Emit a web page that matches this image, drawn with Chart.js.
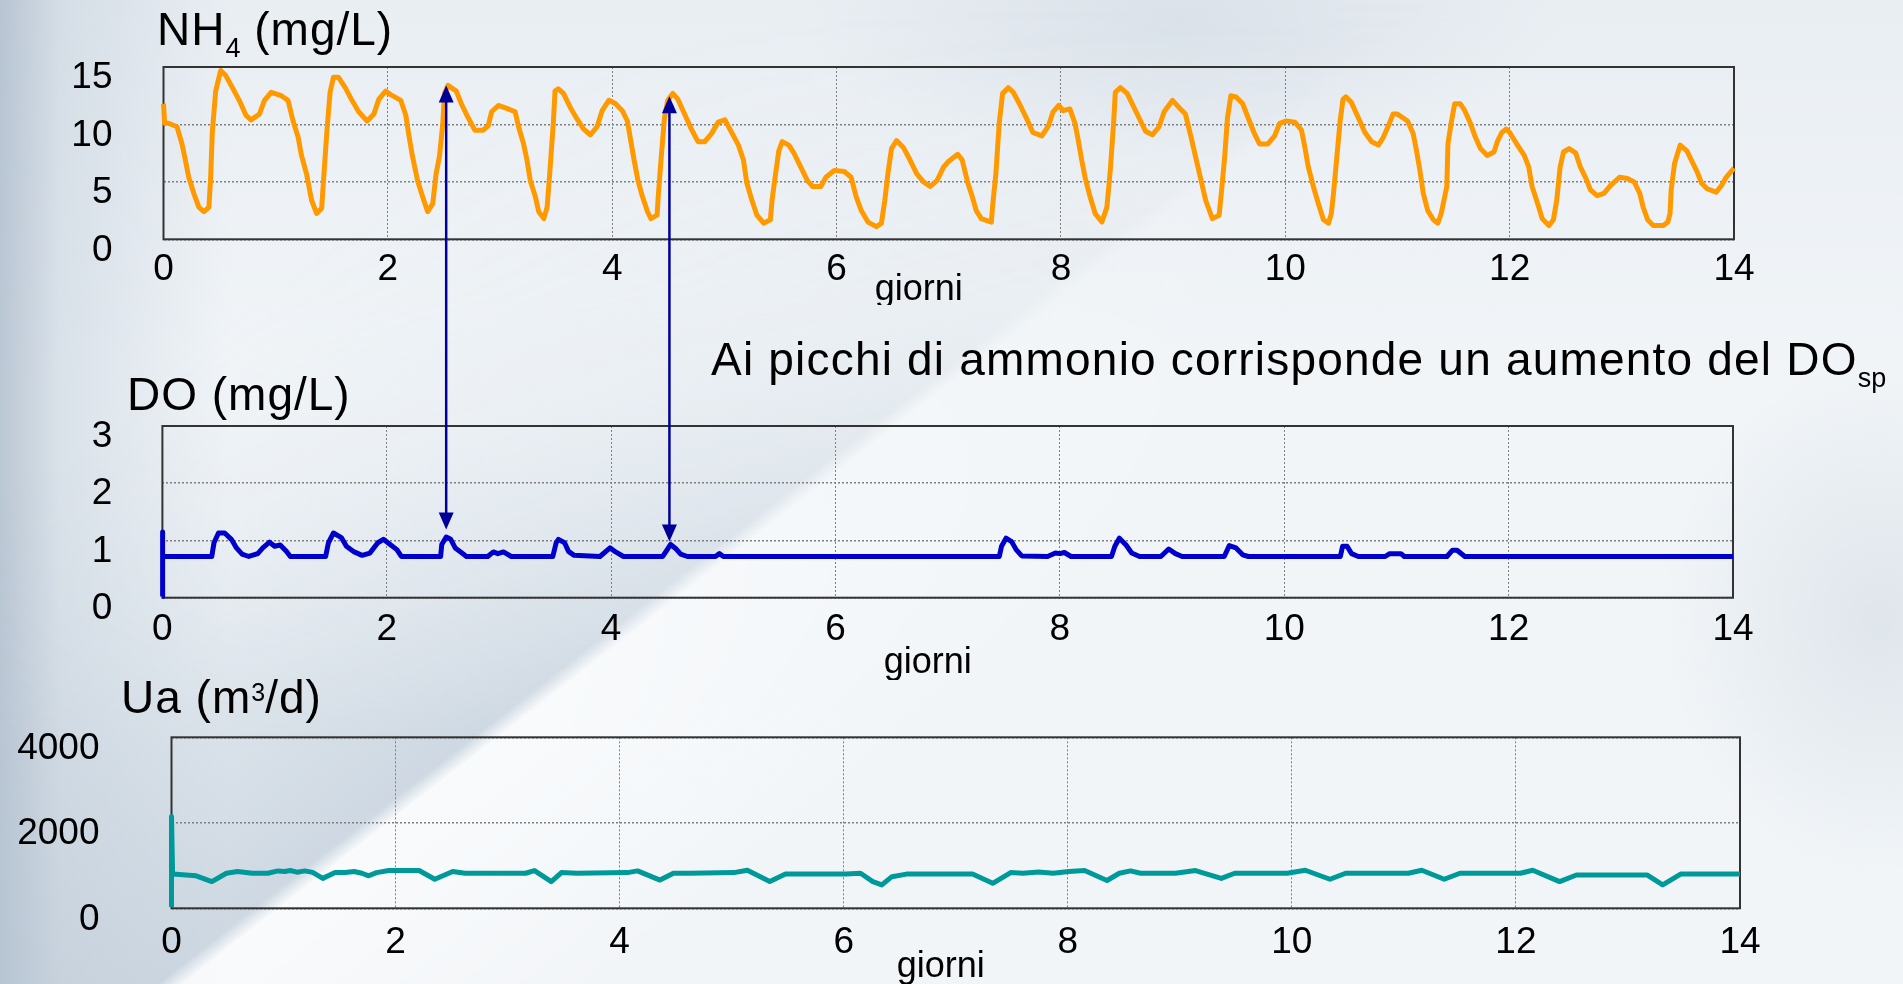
<!DOCTYPE html>
<html lang="it">
<head>
<meta charset="utf-8">
<title>NH4 - DO - Ua</title>
<script src="https://cdn.jsdelivr.net/npm/chart.js@4.4.1/dist/chart.umd.min.js"></script>
<style>
  html, body { margin: 0; padding: 0; background: #eef2f6; }
  #slide {
    position: relative; width: 1903px; height: 984px; overflow: hidden;
    font-family: "Liberation Sans", Arial, Helvetica, sans-serif;
    background:
      linear-gradient(to right, rgba(150,168,188,0.6) 0px, rgba(165,182,200,0.3) 60px, rgba(180,195,210,0) 230px),
      radial-gradient(ellipse 380px 140px at 1180px 20px, rgba(200,210,220,0.45), rgba(200,210,220,0)),
      radial-gradient(ellipse 220px 260px at 1880px 620px, rgba(205,214,223,0.5), rgba(205,214,223,0)),
      linear-gradient(to bottom, #e9eef3 0%, #f1f5f8 40%, #f2f5f8 100%);
  }
  #shade {
    position: absolute; left: 0; top: 0; width: 1903px; height: 984px;
    background: linear-gradient(142deg, rgba(178,193,208,0) 20%, rgba(178,193,208,0.55) 44.8%, rgba(255,255,255,0.55) 45.6%, rgba(255,255,255,0) 60%);
    -webkit-mask-image: linear-gradient(to bottom, rgba(0,0,0,0) 0%, rgba(0,0,0,0.15) 30%, rgba(0,0,0,0.5) 50%, #000 75%);
    mask-image: linear-gradient(to bottom, rgba(0,0,0,0) 0%, rgba(0,0,0,0.15) 30%, rgba(0,0,0,0.5) 50%, #000 75%);
  }
  canvas { position: absolute; left: 0; }
  .label { position: absolute; font-size: 46px; line-height: 46px; letter-spacing: 1px; white-space: nowrap; color: #000; }
  .lo { position: relative; top: 12px; font-size: 27px; letter-spacing: 0; }
  .hi { position: relative; top: -12px; font-size: 25px; letter-spacing: 0; }
</style>
</head>
<body>
<div id="slide">
  <div id="shade"></div>
  <canvas id="nh4Chart" width="1903" height="305" style="top:0"></canvas>
  <canvas id="doChart" width="1903" height="320" style="top:360px"></canvas>
  <canvas id="uaChart" width="1903" height="304" style="top:680px"></canvas>
  <canvas id="arrows" width="1903" height="984" style="top:0"></canvas>

  <div class="label" style="left:157px;top:6px">NH<span class="lo">4</span> (mg/L)</div>
  <div class="label" style="left:127px;top:371px">DO (mg/L)</div>
  <div class="label" style="left:121px;top:674px">Ua (m<span class="hi">3</span>/d)</div>
  <div class="label" style="left:711px;top:336px;letter-spacing:1.2px">Ai picchi di ammonio corrisponde un aumento del DO<span class="lo" style="font-size:27px">sp</span></div>
</div>

<script>
// Time axis shared by the three panels (days)
const DAY_RANGE = [0, 14];
const DAY_STEP = 2;

// Ammonium, mg/L
const NH4_RANGE = [0, 15];
const NH4_STEP = 5;
const NH4_DAYS = [
  0, 0.01, 0.045, 0.12, 0.165, 0.195, 0.225, 0.27, 0.315, 0.36, 0.405, 0.42, 0.435, 0.465, 0.51,
  0.555, 0.615, 0.675, 0.735, 0.78, 0.855, 0.9, 0.96, 1.05, 1.11, 1.155, 1.2, 1.23, 1.275, 1.32,
  1.365, 1.41, 1.425, 1.455, 1.485, 1.515, 1.56, 1.62, 1.68, 1.74, 1.815, 1.875, 1.92, 1.98, 2.025,
  2.115, 2.16, 2.19, 2.22, 2.265, 2.31, 2.355, 2.4, 2.43, 2.46, 2.49, 2.505, 2.535, 2.61, 2.655,
  2.715, 2.775, 2.85, 2.895, 2.925, 2.985, 3.06, 3.135, 3.165, 3.21, 3.24, 3.27, 3.315, 3.345, 3.39,
  3.42, 3.445, 3.475, 3.49, 3.52, 3.565, 3.625, 3.685, 3.745, 3.805, 3.865, 3.91, 3.97, 4.03, 4.09,
  4.135, 4.165, 4.195, 4.23, 4.27, 4.315, 4.345, 4.4, 4.41, 4.435, 4.465, 4.495, 4.54, 4.585, 4.645,
  4.705, 4.765, 4.825, 4.885, 4.945, 5.005, 5.065, 5.125, 5.17, 5.2, 5.245, 5.29, 5.35, 5.41, 5.425,
  5.455, 5.485, 5.515, 5.575, 5.62, 5.68, 5.74, 5.785, 5.86, 5.905, 5.98, 6.07, 6.13, 6.175, 6.22,
  6.28, 6.355, 6.4, 6.43, 6.46, 6.49, 6.535, 6.595, 6.655, 6.715, 6.775, 6.835, 6.895, 6.955, 7.0,
  7.08, 7.12, 7.17, 7.21, 7.245, 7.29, 7.38, 7.39, 7.42, 7.45, 7.48, 7.53, 7.575, 7.63, 7.69,
  7.75, 7.83, 7.89, 7.93, 7.98, 8.02, 8.08, 8.125, 8.155, 8.185, 8.215, 8.26, 8.305, 8.365, 8.41,
  8.44, 8.47, 8.485, 8.53, 8.59, 8.65, 8.71, 8.755, 8.815, 8.875, 8.92, 8.995, 9.05, 9.11, 9.16,
  9.2, 9.25, 9.29, 9.35, 9.41, 9.43, 9.46, 9.485, 9.515, 9.56, 9.62, 9.68, 9.725, 9.77, 9.845,
  9.905, 9.95, 10.01, 10.085, 10.145, 10.175, 10.205, 10.25, 10.295, 10.34, 10.385, 10.41, 10.43, 10.46, 10.49,
  10.515, 10.54, 10.59, 10.65, 10.71, 10.77, 10.83, 10.87, 10.92, 10.96, 11.0, 11.09, 11.14, 11.17, 11.2,
  11.23, 11.27, 11.32, 11.36, 11.39, 11.44, 11.45, 11.48, 11.51, 11.56, 11.6, 11.65, 11.69, 11.74, 11.8,
  11.86, 11.89, 11.93, 11.97, 12.0, 12.07, 12.13, 12.17, 12.2, 12.25, 12.29, 12.35, 12.39, 12.42, 12.45,
  12.48, 12.53, 12.59, 12.63, 12.68, 12.72, 12.78, 12.84, 12.9, 12.98, 13.05, 13.11, 13.16, 13.19, 13.23,
  13.28, 13.37, 13.41, 13.43, 13.44, 13.47, 13.52, 13.58, 13.62, 13.67, 13.71, 13.76, 13.84, 13.89, 13.93,
  14.0
];
const NH4_VALUES = [
  11.8, 10.1, 10.1, 9.8, 8.3, 6.9, 5.4, 4.0, 2.8, 2.4, 2.8, 5.3, 9.3, 12.9, 14.7,
  14.25, 13.2, 12.1, 10.8, 10.4, 10.9, 12.1, 12.8, 12.5, 12.1, 10.3, 8.9, 7.3, 5.7, 3.4,
  2.25, 2.7, 4.9, 9.2, 12.8, 14.1, 14.1, 13.2, 12.1, 11.1, 10.3, 10.9, 12.2, 12.9, 12.6,
  12.1, 10.8, 8.9, 7.2, 5.1, 3.7, 2.4, 3.1, 5.7, 7.2, 10.1, 12.7, 13.4, 12.9, 11.8,
  10.6, 9.5, 9.5, 9.9, 11.1, 11.65, 11.4, 11.1, 9.8, 8.3, 6.9, 5.1, 3.7, 2.4, 1.8,
  2.8, 6.0, 10.1, 12.9, 13.1, 12.7, 11.5, 10.5, 9.6, 9.1, 9.8, 11.2, 12.1, 11.8, 11.2,
  10.3, 8.6, 6.9, 5.1, 3.7, 2.4, 1.8, 2.1, 3.7, 6.9, 10.5, 12.1, 12.7, 12.2, 10.9,
  9.6, 8.5, 8.5, 9.2, 10.2, 10.4, 9.3, 8.2, 6.9, 4.9, 3.4, 2.1, 1.4, 1.7, 3.4,
  5.6, 7.7, 8.5, 8.2, 7.5, 6.3, 5.1, 4.6, 4.6, 5.4, 6.0, 5.9, 5.4, 3.7, 2.5,
  1.5, 1.1, 1.4, 3.4, 5.9, 7.9, 8.6, 8.0, 6.9, 5.7, 5.0, 4.6, 5.1, 6.3, 6.8,
  7.4, 6.9, 4.9, 3.7, 2.5, 1.8, 1.5, 2.8, 5.7, 10.1, 12.7, 13.2, 12.8, 11.8, 10.6,
  9.3, 9.0, 9.9, 11.1, 11.65, 11.2, 11.35, 10.1, 8.6, 6.9, 5.4, 3.7, 2.25, 1.5, 2.8,
  6.0, 10.2, 12.8, 13.2, 12.7, 11.5, 10.3, 9.4, 9.1, 9.8, 11.1, 12.1, 11.5, 10.9, 8.9,
  7.2, 5.1, 3.4, 1.8, 2.1, 4.0, 7.2, 10.6, 12.5, 12.4, 11.8, 10.3, 9.2, 8.3, 8.3,
  9.0, 10.1, 10.3, 10.2, 9.5, 8.0, 6.3, 4.6, 3.1, 1.7, 1.4, 2.2, 4.0, 7.2, 10.4,
  12.2, 12.4, 11.9, 10.6, 9.3, 8.5, 8.2, 8.8, 9.9, 10.9, 10.9, 10.3, 9.2, 7.7, 6.0,
  4.0, 2.5, 1.7, 1.4, 2.25, 4.6, 8.3, 10.2, 11.8, 11.8, 11.2, 10.1, 9.0, 7.9, 7.3,
  7.6, 8.5, 9.3, 9.6, 9.3, 8.2, 7.3, 6.3, 4.6, 3.1, 1.8, 1.2, 1.7, 3.4, 6.3,
  7.6, 7.9, 7.5, 6.3, 5.3, 4.3, 3.8, 4.0, 4.7, 5.4, 5.3, 5.0, 4.0, 2.8, 1.7,
  1.2, 1.2, 1.5, 2.25, 4.3, 6.6, 8.2, 7.7, 6.9, 5.9, 4.9, 4.4, 4.1, 4.7, 5.4,
  6.2
];

// Dissolved oxygen, mg/L
const DO_RANGE = [0, 3];
const DO_STEP = 1;
const DO_DAYS = [
  0, 0, 0.004, 0.44, 0.46, 0.5, 0.555, 0.615, 0.66, 0.71, 0.77, 0.85, 0.895, 0.955, 1.0,
  1.05, 1.105, 1.14, 1.455, 1.48, 1.525, 1.595, 1.64, 1.71, 1.78, 1.85, 1.92, 1.97, 2.03, 2.09,
  2.13, 2.48, 2.49, 2.53, 2.57, 2.61, 2.67, 2.71, 2.9, 2.95, 2.99, 3.04, 3.11, 3.48, 3.51,
  3.53, 3.585, 3.62, 3.67, 3.9, 3.99, 4.04, 4.11, 4.46, 4.5, 4.53, 4.58, 4.62, 4.68, 4.93,
  4.965, 5.0, 7.46, 7.48, 7.52, 7.57, 7.61, 7.66, 7.89, 7.96, 8.0, 8.04, 8.1, 8.46, 8.49,
  8.53, 8.59, 8.64, 8.71, 8.9, 8.97, 9.03, 9.09, 9.465, 9.51, 9.57, 9.63, 9.68, 10.5, 10.52,
  10.56, 10.6, 10.66, 10.9, 10.94, 11.04, 11.07, 11.45, 11.5, 11.54, 11.61, 14.0
];
const DO_VALUES = [
  0.02, 1.15, 0.72, 0.72, 0.96, 1.13, 1.13, 1.02, 0.87, 0.76, 0.72, 0.77, 0.87, 0.97, 0.9,
  0.92, 0.81, 0.72, 0.72, 0.96, 1.13, 1.05, 0.9, 0.8, 0.74, 0.78, 0.96, 1.02, 0.93, 0.84,
  0.72, 0.72, 0.93, 1.06, 1.02, 0.87, 0.78, 0.72, 0.72, 0.8, 0.77, 0.8, 0.72, 0.72, 0.96,
  1.02, 0.96, 0.81, 0.74, 0.72, 0.87, 0.8, 0.72, 0.72, 0.84, 0.93, 0.85, 0.76, 0.72, 0.72,
  0.77, 0.72, 0.72, 0.9, 1.04, 0.98, 0.84, 0.73, 0.72, 0.78, 0.77, 0.79, 0.72, 0.72, 0.9,
  1.04, 0.92, 0.78, 0.72, 0.72, 0.85, 0.77, 0.72, 0.72, 0.91, 0.87, 0.75, 0.72, 0.72, 0.9,
  0.9, 0.77, 0.72, 0.72, 0.77, 0.77, 0.72, 0.72, 0.83, 0.83, 0.72, 0.72
];

// Air flow, m3/d
const UA_RANGE = [0, 4000];
const UA_STEP = 2000;
const UA_DAYS = [
  0, 0, 0.01, 0.22, 0.36, 0.49, 0.59, 0.72, 0.86, 0.95, 1.01, 1.06, 1.12, 1.19, 1.26,
  1.35, 1.46, 1.55, 1.63, 1.7, 1.76, 1.83, 1.94, 2.21, 2.35, 2.51, 2.62, 3.16, 3.24, 3.39,
  3.48, 3.62, 4.07, 4.16, 4.36, 4.48, 4.62, 5.02, 5.14, 5.34, 5.48, 6.02, 6.15, 6.26, 6.34,
  6.43, 6.56, 7.15, 7.33, 7.49, 7.6, 7.74, 7.87, 8.01, 8.15, 8.35, 8.46, 8.56, 8.65, 8.96,
  9.14, 9.37, 9.49, 9.96, 10.12, 10.34, 10.48, 11.04, 11.16, 11.36, 11.5, 12.04, 12.15, 12.39, 12.54,
  13.17, 13.31, 13.47, 14.0
];
const UA_VALUES = [
  30, 2150, 800, 760, 625, 820, 860, 820, 820, 875, 860, 883, 845, 875, 840,
  700, 835, 835, 860, 820, 760, 835, 883, 883, 680, 860, 820, 820, 883, 625,
  835, 820, 835, 875, 660, 820, 820, 835, 890, 625, 800, 800, 820, 625, 547,
  740, 800, 800, 585, 835, 820, 850, 820, 860, 883, 650, 820, 875, 820, 820,
  883, 700, 820, 820, 890, 680, 820, 820, 890, 680, 820, 820, 890, 625, 780,
  780, 547, 800, 800
];

// Double arrows linking ammonium peaks to the DO response
const ARROW_DAYS = [2.52, 4.51];
const ARROW_NH4 = [13.4, 12.45];
const ARROW_DO = [1.19, 0.98];

const COLORS = {
  nh4: "#ff9900",
  do: "#0000cc",
  ua: "#00999a",
  arrow: "#000099",
  grid: "#7f7f7f",
  frame: "#333333",
};

Chart.defaults.font.family = '"Liberation Sans", Arial, Helvetica, sans-serif';
Chart.defaults.color = "#000";

const toPoints = (days, values) => days.map((d, i) => ({ x: d, y: values[i] }));

// Box around the plotting area, drawn under the curve
const plotFrame = {
  id: "plotFrame",
  beforeDatasetsDraw(chart) {
    const { ctx, chartArea: a } = chart;
    ctx.save();
    ctx.strokeStyle = COLORS.frame;
    ctx.lineWidth = 2;
    ctx.strokeRect(a.left, a.top, a.right - a.left, a.bottom - a.top);
    ctx.restore();
  },
};

// Fixed axis box sizes; label overflow must not shrink the plot area
const fixBox = (size, key) => (s) => {
  s[key] = size;
  s.paddingTop = 0;
  s.paddingBottom = 0;
  s.paddingLeft = 0;
  s.paddingRight = 0;
};

// "giorni" sits a little left of the axis centre; trailing blanks pull it over
const dayTitle = (shift) => "giorni" + "\u00a0".repeat(shift);

const makePanel = (canvasId, p) =>
  new Chart(document.getElementById(canvasId), {
    type: "line",
    data: {
      datasets: [
        {
          data: toPoints(p.days, p.values),
          borderColor: p.color,
          borderWidth: p.lineWidth,
          borderJoinStyle: "round",
          pointRadius: 0,
          tension: 0,
          clip: false,
        },
      ],
    },
    options: {
      responsive: false,
      animation: false,
      events: [],
      layout: { padding: { top: p.padTop, right: p.padRight, bottom: 0, left: 0 } },
      plugins: { legend: { display: false }, tooltip: { enabled: false } },
      scales: {
        x: {
          type: "linear",
          min: DAY_RANGE[0],
          max: DAY_RANGE[1],
          afterFit: fixBox(p.xAxisHeight, "height"),
          grid: { color: COLORS.grid, lineWidth: 1, drawTicks: false },
          border: { display: false, dash: [2, 2] },
          ticks: { stepSize: DAY_STEP, padding: p.xTickPad, maxRotation: 0, autoSkip: false, font: { size: 37 } },
          title: {
            display: true,
            text: dayTitle(p.titleShift),
            font: { size: 36, lineHeight: 1 },
            padding: { top: 0, bottom: p.titlePad },
          },
        },
        y: {
          min: p.range[0],
          max: p.range[1],
          afterFit: fixBox(p.yAxisWidth, "width"),
          grid: { color: COLORS.grid, lineWidth: 1.5, drawTicks: false },
          border: { display: false, dash: [2, 2] },
          ticks: {
            stepSize: p.step,
            padding: p.yTickPad,
            labelOffset: 11,
            font: { size: 37 },
            callback: (v) => String(v),
          },
        },
      },
    },
    plugins: [plotFrame],
  });

const charts = {
  nh4: makePanel("nh4Chart", {
    days: NH4_DAYS, values: NH4_VALUES, color: COLORS.nh4, lineWidth: 5,
    range: NH4_RANGE, step: NH4_STEP,
    padTop: 67, padRight: 169, xAxisHeight: 65.7, yAxisWidth: 163.5,
    xTickPad: 8, yTickPad: 51, titlePad: -3, titleShift: 6,
  }),
  do: makePanel("doChart", {
    days: DO_DAYS, values: DO_VALUES, color: COLORS.do, lineWidth: 5,
    range: DO_RANGE, step: DO_STEP,
    padTop: 66, padRight: 170, xAxisHeight: 82.3, yAxisWidth: 162.4,
    xTickPad: 10, yTickPad: 50, titlePad: -1, titleShift: 4,
  }),
  ua: makePanel("uaChart", {
    days: UA_DAYS, values: UA_VALUES, color: COLORS.ua, lineWidth: 5,
    range: UA_RANGE, step: UA_STEP,
    padTop: 57.3, padRight: 163, xAxisHeight: 75.7, yAxisWidth: 171.5,
    xTickPad: 12, yTickPad: 72, titlePad: -1, titleShift: 3,
  }),
};

// Arrow head with its tip at (x, y); dir = 1 points up, -1 points down
const drawHead = (ctx, x, y, dir) => {
  const len = 17, half = 7.5;
  ctx.beginPath();
  ctx.moveTo(x, y);
  ctx.lineTo(x - half, y + dir * len);
  ctx.lineTo(x + half, y + dir * len);
  ctx.closePath();
  ctx.fill();
};

// Arrows span two canvases, so positions come from both charts' scales
function drawArrows() {
  const ctx = document.getElementById("arrows").getContext("2d");
  const top = charts.nh4, bottom = charts.do;
  const topOff = top.canvas.offsetTop;
  const botOff = bottom.canvas.offsetTop;
  ctx.strokeStyle = COLORS.arrow;
  ctx.fillStyle = COLORS.arrow;
  ctx.lineWidth = 2.5;
  ARROW_DAYS.forEach((day, i) => {
    const x = top.scales.x.getPixelForValue(day);
    const yTop = topOff + top.scales.y.getPixelForValue(ARROW_NH4[i]);
    const yBot = botOff + bottom.scales.y.getPixelForValue(ARROW_DO[i]);
    ctx.beginPath();
    ctx.moveTo(x, yTop + 10);
    ctx.lineTo(x, yBot - 10);
    ctx.stroke();
    drawHead(ctx, x, yTop, 1);
    drawHead(ctx, x, yBot, -1);
  });
}

drawArrows();
</script>
</body>
</html>
